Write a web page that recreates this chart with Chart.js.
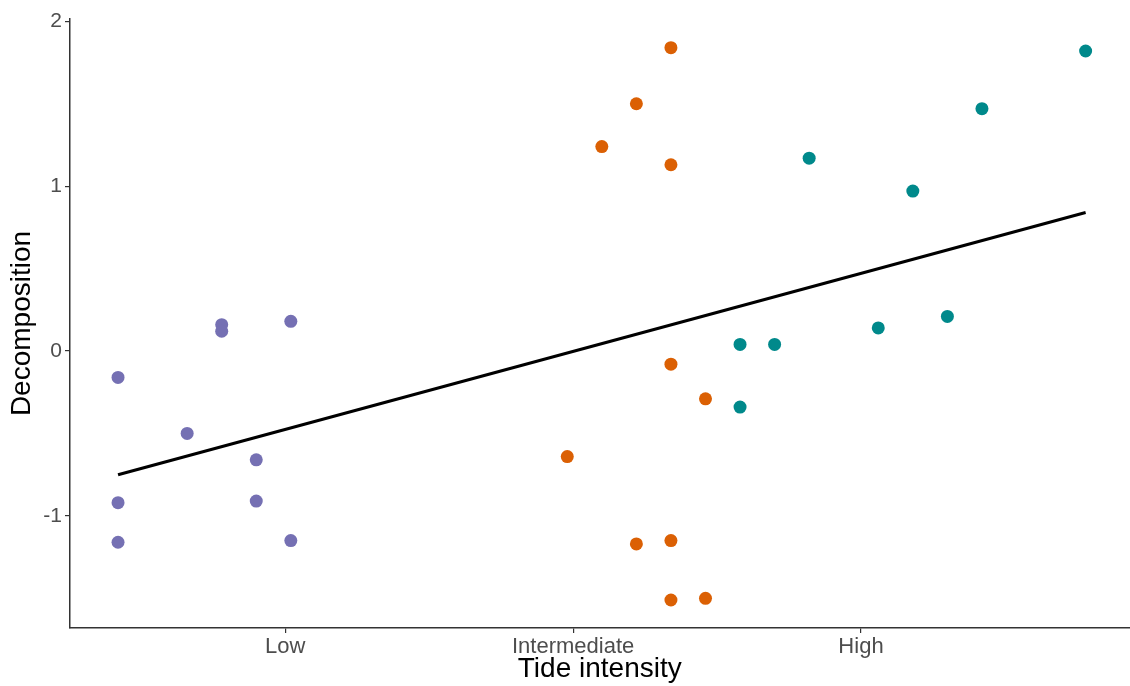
<!DOCTYPE html>
<html lang="en">

<head>
    <meta charset="UTF-8">
    <title>Decomposition by tide intensity</title>
    <script src="https://cdn.jsdelivr.net/npm/chart.js"></script>
    <style>
        body { margin: 0; background: #fff; overflow: hidden; }
        /* a little wider than the window so the x axis runs off the right edge */
        #wrap { width: 1136px; height: 686px; }
    </style>
</head>

<body>
    <div id="wrap">
        <canvas id="myChart"></canvas>
    </div>

    <script>
        // tide position (jittered) and decomposition score for each plot
        const lowX = [0, 0, 0, 2, 3, 3, 4, 4, 5, 5];
        const lowY = [-0.16, -0.92, -1.16, -0.50, 0.16, 0.12, -0.66, -0.91, 0.18, -1.15];

        const midX = [13, 14, 15, 15, 16, 16, 16, 16, 16, 17, 17];
        const midY = [-0.64, 1.24, 1.50, -1.17, 1.84, 1.13, -0.08, -1.15, -1.51, -0.29, -1.50];

        const highX = [18, 18, 19, 20, 22, 23, 24, 25, 28];
        const highY = [0.04, -0.34, 0.04, 1.17, 0.14, 0.97, 0.21, 1.47, 1.82];

        // fitted trend, read at both ends
        const fitX = [0, 28];
        const fitY = [-0.75, 0.84];

        const tickPos = [4.84, 13.17, 21.5];
        const tickNames = ['Low', 'Intermediate', 'High'];
        const yTicks = [-1, 0, 1, 2];

        const toPts = (xs, ys) => xs.map((x, i) => ({ x: x, y: ys[i] }));

        const axisColor = '#333333';
        const font = 'Liberation Sans, Arial, Helvetica, sans-serif';

        const data = {
            datasets: [
                {
                    type: 'line',
                    data: toPts(fitX, fitY),
                    borderColor: '#000000',
                    borderWidth: 3,
                    pointRadius: 0,
                    fill: false
                },
                {
                    data: toPts(lowX, lowY),
                    backgroundColor: '#7570b3',
                    borderWidth: 0,
                    pointRadius: 6.5
                },
                {
                    data: toPts(midX, midY),
                    backgroundColor: '#db6004',
                    borderWidth: 0,
                    pointRadius: 6.5
                },
                {
                    data: toPts(highX, highY),
                    backgroundColor: '#00898b',
                    borderWidth: 0,
                    pointRadius: 6.5
                }
            ]
        };

        const config = {
            type: 'scatter',
            data: data,
            options: {
                responsive: true,
                maintainAspectRatio: false,
                animation: false,
                layout: {
                    padding: { top: 19, right: 0, left: 0, bottom: 0 }
                },
                plugins: {
                    legend: { display: false },
                    tooltip: { enabled: false }
                },
                scales: {
                    x: {
                        type: 'linear',
                        min: -1.39,
                        max: 29.27,
                        afterFit: s => { s.height = 58; },
                        afterBuildTicks: s => { s.ticks = tickPos.map(v => ({ value: v })); },
                        border: { display: true, color: axisColor, width: 1.5 },
                        grid: { drawOnChartArea: false, drawTicks: true, tickLength: 5, color: axisColor, tickColor: axisColor, lineWidth: 1.2 },
                        ticks: {
                            callback: (v, i) => tickNames[i],
                            color: '#4d4d4d',
                            font: { family: font, size: 22 },
                            padding: 1,
                            maxRotation: 0,
                            autoSkip: false
                        },
                        title: {
                            display: true,
                            text: 'Tide intensity',
                            color: '#000000',
                            font: { family: font, size: 28 },
                            padding: { top: 0, bottom: 0 }
                        }
                    },
                    y: {
                        min: -1.68,
                        max: 2.014,
                        afterFit: s => { s.width = 70; },
                        afterBuildTicks: s => { s.ticks = yTicks.map(v => ({ value: v })); },
                        border: { display: true, color: axisColor, width: 1.5 },
                        grid: { drawOnChartArea: false, drawTicks: true, tickLength: 5, color: axisColor, tickColor: axisColor, lineWidth: 1.2 },
                        ticks: {
                            callback: v => String(v),
                            color: '#4d4d4d',
                            font: { family: font, size: 21 },
                            padding: 3
                        },
                        title: {
                            display: true,
                            text: 'Decomposition',
                            color: '#000000',
                            font: { family: font, size: 28 },
                            padding: { top: 5, bottom: 0 }
                        }
                    }
                }
            }
        };

        new Chart(document.getElementById('myChart'), config);
    </script>
</body>

</html>
